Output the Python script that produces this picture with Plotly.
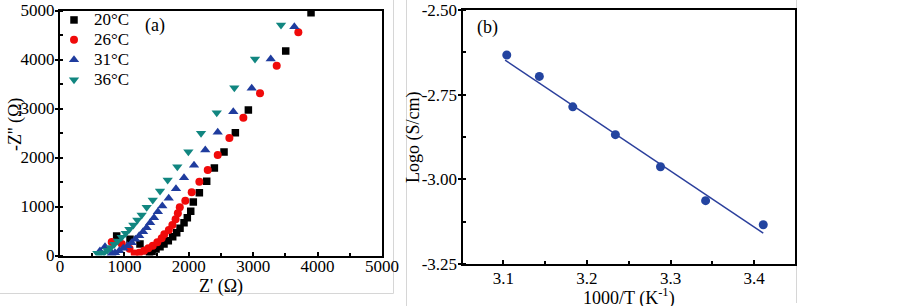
import plotly.graph_objects as go

W, H = 903, 306

# ---------------- Panel (a) data: Nyquist plots ----------------
series_names = ["20°C", "26°C", "31°C", "36°C"]

z_re_20 = [880, 1087, 1242, 1330, 1390, 1430, 1491, 1553, 1615, 1682, 1750, 1812, 1864,
           1926, 1977, 2030, 2070, 2164, 2278, 2397, 2547, 2723, 2925, 3505, 3898]
z_im_20 = [400, 330, 235, 100, 45, 80, 133, 180, 235, 303, 384, 466, 555,
           670, 772, 905, 1092, 1282, 1514, 1786, 2113, 2506, 2970, 4174, 4956]

z_re_26 = [803, 960, 1080, 1160, 1232, 1305, 1372, 1440, 1511, 1579, 1620, 1690, 1745,
           1795, 1830, 1860, 1946, 2045, 2164, 2294, 2449, 2630, 2847, 3106, 3365, 3701]
z_im_26 = [275, 235, 140, 40, 57, 98, 147, 200, 269, 351, 432, 520, 623,
           739, 860, 984, 1118, 1290, 1506, 1745, 2051, 2398, 2812, 3310, 3874, 4555]

z_re_31 = [620, 699, 760, 800, 854, 921, 983, 1051, 1113, 1170, 1230, 1290, 1345, 1400,
           1460, 1520, 1589, 1688, 1801, 1926, 2081, 2256, 2449, 2691, 2977, 3272, 3639]
z_im_31 = [90, 180, 120, 35, 57, 98, 147, 200, 262, 330, 404, 486, 568, 670,
           772, 894, 1010, 1167, 1363, 1588, 1841, 2153, 2515, 2935, 3413, 4011, 4670]

z_re_36 = [580, 632, 683, 735, 787, 844, 896, 958, 1020, 1077, 1139, 1201, 1268, 1346,
           1440, 1553, 1672, 1822, 1993, 2190, 2434, 2707, 3028, 3432]
z_im_36 = [45, 45, 57, 106, 159, 228, 296, 371, 453, 535, 623, 725, 827, 984,
           1133, 1316, 1541, 1812, 2119, 2494, 2915, 3425, 4011, 4705]

# ---------------- Panel (b) data: Arrhenius plot ----------------
inv_T = [3.104, 3.143, 3.183, 3.234, 3.288, 3.342, 3.411]
log_sigma = [-2.633, -2.696, -2.786, -2.868, -2.963, -3.063, -3.134]
fit_x = [3.102, 3.411]
fit_y = [-2.648, -3.159]

a_xticks = [0, 1000, 2000, 3000, 4000, 5000]
a_yticks = [0, 1000, 2000, 3000, 4000, 5000]
b_xticks = [3.1, 3.2, 3.3, 3.4]
b_xticktext = ["3.1", "3.2", "3.3", "3.4"]
b_yticks = [-3.25, -3.00, -2.75, -2.50]
b_yticktext = ["-3.25", "-3.00", "-2.75", "-2.50"]

FONT = "Liberation Serif"

def px(x):
    return x / W

def py(y):
    return 1 - y / H

fig = go.Figure()

styles = [
    dict(symbol="square", color="#000000", size=7.5),
    dict(symbol="circle", color="#f00a0a", size=8),
    dict(symbol="triangle-up", color="#1f3c9e", size=9),
    dict(symbol="triangle-down", color="#118680", size=9),
]
data_a = [(z_re_20, z_im_20), (z_re_26, z_im_26), (z_re_31, z_im_31), (z_re_36, z_im_36)]
for i in range(4):
    xs, ys = data_a[i]
    st = styles[i]
    fig.add_trace(go.Scatter(
        x=xs, y=ys, mode="markers", xaxis="x", yaxis="y",
        name='<span style="font-size:17px">' + series_names[i] + "</span>",
        marker=dict(symbol=st["symbol"], color=st["color"], size=st["size"], line=dict(width=0)),
        showlegend=True,
    ))

fig.add_trace(go.Scatter(
    x=fit_x, y=fit_y, mode="lines", xaxis="x2", yaxis="y2",
    line=dict(color="#2b3f9c", width=1.5), showlegend=False,
))
fig.add_trace(go.Scatter(
    x=inv_T, y=log_sigma, mode="markers", xaxis="x2", yaxis="y2",
    marker=dict(symbol="circle", color="#2344a0", size=9), showlegend=False,
))

axis_common = dict(
    showline=True, linecolor="black", linewidth=2, mirror=True,
    showgrid=False, zeroline=False, automargin=False,
    tickfont=dict(family=FONT, size=17, color="black"),
    tickcolor="black", tickwidth=1.5,
)
minor_common = dict(ticks="inside", ticklen=3, tickcolor="black", tickwidth=1.5)

fig.update_layout(
    width=W, height=H,
    margin=dict(l=0, r=0, t=0, b=0, pad=0),
    paper_bgcolor="white", plot_bgcolor="white",
    font=dict(family=FONT, color="black"),
    xaxis=dict(axis_common, domain=[px(60), px(382)], range=[0, 5000],
               tickvals=a_xticks, ticks="inside", ticklen=4, ticklabelstandoff=-6,
               minor=dict(minor_common, dtick=500),
               anchor="y"),
    yaxis=dict(axis_common, domain=[py(255.5), py(10.5)], range=[0, 5000],
               tickvals=a_yticks, ticks="outside", ticklen=3, ticklabelstandoff=-3,
               minor=dict(minor_common, dtick=500),
               anchor="x"),
    xaxis2=dict(axis_common, domain=[px(462.5), px(795)], range=[3.051, 3.449],
                tickvals=b_xticks, ticktext=b_xticktext, ticks="inside", ticklen=4,
                ticklabelstandoff=-2,
                minor=dict(minor_common, dtick=0.05, tick0=3.05),
                anchor="y2"),
    yaxis2=dict(axis_common, domain=[py(264), py(10)], range=[-3.25, -2.50],
                tickvals=b_yticks, ticktext=b_yticktext, ticks="outside", ticklen=3,
                ticklabelstandoff=-3,
                minor=dict(minor_common, dtick=0.125, tick0=-3.25),
                anchor="x2"),
    legend=dict(x=px(54), y=py(5), xanchor="left", yanchor="top",
                bgcolor="rgba(0,0,0,0)", font=dict(family=FONT, size=13, color="black"),
                tracegroupgap=0, itemwidth=30),
    showlegend=True,
)

ann_font = dict(family=FONT, size=18, color="black")
annotations = [
    dict(text="(a)", x=px(155), y=py(25)),
    dict(text="(b)", x=px(487), y=py(27)),
    dict(text="Z' (Ω)", x=px(221), y=py(286)),
    dict(text="-Z'' (Ω)", x=px(15), y=py(125), textangle=-90),
    dict(text="Logo (S/cm)", x=px(413), y=py(137), textangle=-90),
    dict(text="1000/T (K<sup>-1</sup>)", x=px(629), y=py(297)),
]
for a in annotations:
    a.update(xref="paper", yref="paper", showarrow=False, font=ann_font,
             xanchor="center", yanchor="middle")
fig.update_layout(annotations=annotations)

gray = dict(color="#d6d6d6", width=1)
shapes = [
    dict(type="line", x0=px(393.5), x1=px(393.5), y0=py(0), y1=py(293.5)),
    dict(type="line", x0=px(0), x1=px(393.5), y0=py(293.5), y1=py(293.5)),
    dict(type="line", x0=px(406.5), x1=px(406.5), y0=py(0), y1=py(306)),
    dict(type="line", x0=px(796.5), x1=px(796.5), y0=py(0), y1=py(303)),
]
for s in shapes:
    s.update(xref="paper", yref="paper", line=gray, layer="below")
fig.update_layout(shapes=shapes)

fig.write_html(
    "out.html",
    config={"displayModeBar": False},
    post_script="document.body.style.margin='0';document.body.style.overflow='hidden';",
)
